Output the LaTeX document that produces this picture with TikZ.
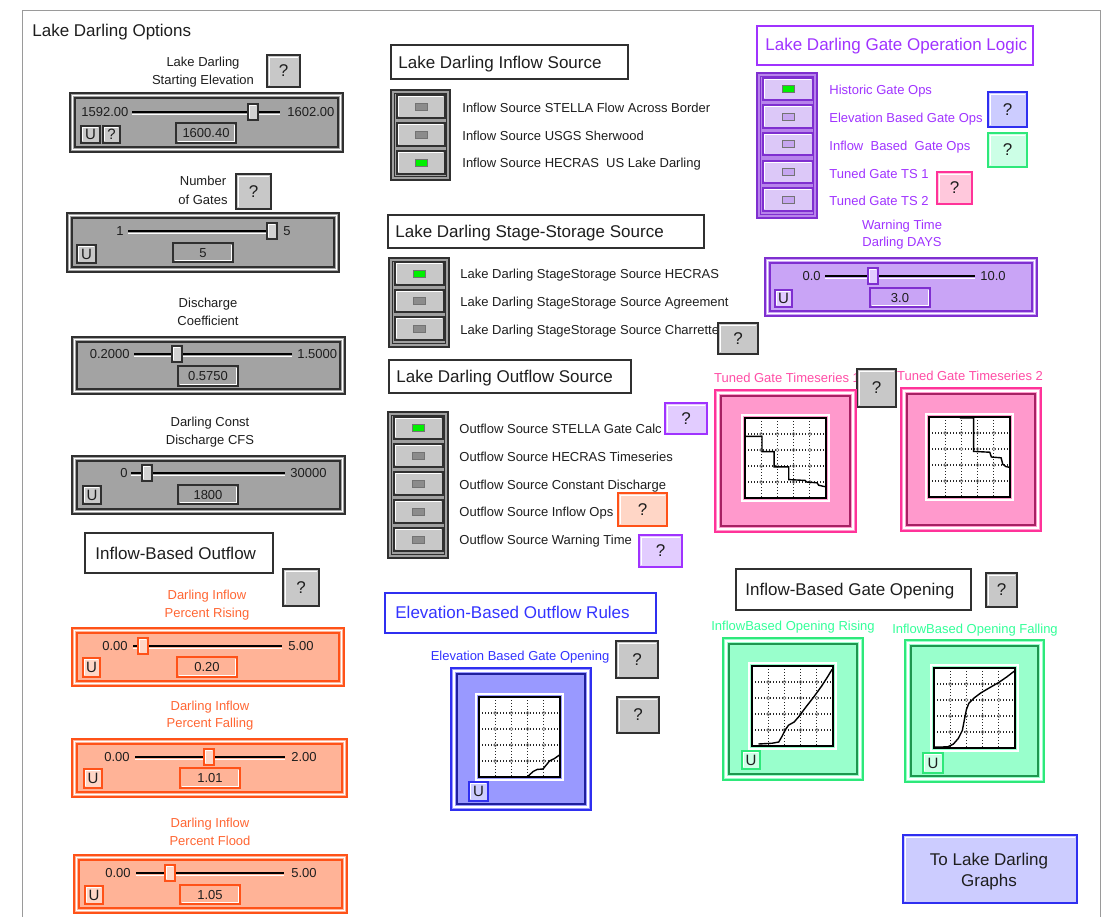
\documentclass[tikz,border=0pt]{standalone}
\usepackage{fontspec}
\setmainfont{Liberation Sans}

\definecolor{txtdark}{HTML}{1E1E1E}
\definecolor{sgray}{HTML}{A3A3A3}
\definecolor{sbord}{HTML}{303030}
\definecolor{btngray}{HTML}{C8C8C8}
\definecolor{thumbgray}{HTML}{D2D2D2}
\definecolor{grpgray}{HTML}{A0A0A0}
\definecolor{ledoff}{HTML}{8C8C8C}
\definecolor{ledon}{HTML}{00F000}
\definecolor{orgtxt}{HTML}{FF6633}
\definecolor{orgfill}{HTML}{FFB397}
\definecolor{orgbord}{HTML}{FF5218}
\definecolor{orglite}{HTML}{FFD6C6}
\definecolor{purtxt}{HTML}{A033FF}
\definecolor{purbord}{HTML}{7F2FD0}
\definecolor{purgrp}{HTML}{B783EB}
\definecolor{purbtn}{HTML}{DCC8F8}
\definecolor{purled}{HTML}{C6A6F0}
\definecolor{purslide}{HTML}{C9A4F6}
\definecolor{purlite}{HTML}{E2CCFF}
\definecolor{pnktxt}{HTML}{FF4DA6}
\definecolor{pnkfill}{HTML}{FF99CC}
\definecolor{pnkbord}{HTML}{FF3399}
\definecolor{pnklite}{HTML}{FFC8DC}
\definecolor{grntxt}{HTML}{33FF99}
\definecolor{grnfill}{HTML}{99FFCC}
\definecolor{grnbord}{HTML}{2EE87A}
\definecolor{grnlite}{HTML}{CCFFE6}
\definecolor{blutxt}{HTML}{3333FF}
\definecolor{blufill}{HTML}{9999FF}
\definecolor{blubord}{HTML}{2F2FF0}
\definecolor{blulite}{HTML}{CCCCFF}
\definecolor{framegray}{HTML}{9A9A9A}

% raised help button with a question mark
\newcommand{\ldhelp}[7]{%
  \filldraw[fill=#6, draw=#7, line width=0.9pt] (#2,#3) rectangle (#4,#5);
  \draw[white, line width=0.5pt] (#2+2,#5-2) -- (#2+2,#3+2) -- (#4-2,#3+2);
  \node[qmark] (#1) at ({(#2+#4)/2},{(#3+#5)/2}) {?};
}
% small square button (U or ?)
\newcommand{\ldsmall}[8]{%
  \filldraw[fill=#6, draw=#7, line width=0.8pt] (#2,#3) rectangle (#4,#5);
  \draw[white, line width=0.4pt] (#2+1.8,#5-1.8) -- (#2+1.8,#3+1.8) -- (#4-1.8,#3+1.8);
  \node[ubtn] (#1) at ({(#2+#4)/2},{(#3+#5)/2}) {#8};
}
% bevelled frame of a slider
\newcommand{\ldframe}[6]{%
  \filldraw[fill=#5, draw=#6, line width=1pt] (#1,#2) rectangle (#3,#4);
  \draw[white, line width=0.7pt] (#1+2.6,#2+2.6) rectangle (#3-2.6,#4-2.6);
  \draw[#6, line width=0.6pt] (#1+5,#2+5) rectangle (#3-5,#4-5);
}
% slider track with its thumb
\newcommand{\ldtrack}[6]{%
  \draw[black, line width=1.4pt] (#1,#3) -- (#2,#3);
  \draw[white, line width=0.5pt] (#1,#3+2.3) -- (#2,#3+2.3);
  \filldraw[fill=#5, draw=#6, line width=0.6pt] (#4-5,#3-8) rectangle (#4+5,#3+8);
  \draw[white, line width=0.4pt] (#4-3.4,#3+6.4) -- (#4-3.4,#3-6.4) -- (#4+3.4,#3-6.4);
}
% numeric value display
\newcommand{\ldvalue}[8]{%
  \filldraw[fill=#6, draw=#7, line width=0.9pt] (#2,#3) rectangle (#4,#5);
  \draw[white, line width=0.4pt] (#2+2,#5-2) -- (#4-2,#5-2) -- (#4-2,#3+2);
  \node[lbl] (#1) at ({(#2+#4)/2},{(#3+#5)/2}) {#8};
}
% box that holds a column of radio buttons
\newcommand{\ldgroup}[6]{%
  \filldraw[fill=#5, draw=#6, line width=1pt] (#1,#2) rectangle (#3,#4);
  \draw[#6, line width=0.6pt] (#1+3.5,#2+3.5) rectangle (#3-3.5,#4-3.5);
}
% one radio button with its indicator lamp
\newcommand{\ldradio}[7]{%
  \filldraw[fill=#5, draw=#6, line width=0.8pt] (#1,#2) rectangle (#3,#4);
  \draw[white, line width=0.5pt] (#1+1.6,#4-1.6) -- (#1+1.6,#2+1.6) -- (#3-1.6,#2+1.6);
  \filldraw[fill=#7, draw=black!55, line width=0.4pt]
    ({(#1+#3)/2-6},{(#2+#4)/2-3.5}) rectangle ({(#1+#3)/2+6},{(#2+#4)/2+3.5});
}
% bevelled panel around a graphical function
\newcommand{\ldpanel}[6]{%
  \filldraw[fill=#5, draw=#6, line width=1pt] (#1,#2) rectangle (#3,#4);
  \draw[white, line width=0.7pt] (#1+3,#2+3) rectangle (#3-3,#4-3);
  \draw[#6!65!black, line width=0.6pt] (#1+6,#2+6) rectangle (#3-6,#4-6);
}
% plot area with dotted grid and a curve (unit square, y downwards)
\newcommand{\ldplot}[3]{%
  \begin{scope}[shift={(#1,#2)}, x=40.5pt, y=-40pt]
    \draw[white, line width=1.2pt] (-0.035,-0.035) rectangle (1.035,1.035);
    \fill[white] (0,0) rectangle (1,1);
    \foreach \pg in {0.2,0.4,0.6,0.8}{
      \draw[black!85, dash pattern=on 0.6pt off 0.9pt, line width=0.6pt] (\pg,0) -- (\pg,1);
      \draw[black!85, dash pattern=on 0.6pt off 0.9pt, line width=0.6pt] (0,\pg) -- (1,\pg);
    }
    \foreach \pa in {0.2,0.4,0.6,0.8}{\foreach \pb in {0.2,0.4,0.6,0.8}{
      \draw[black!50, line width=0.3pt] (\pa,\pb) circle[radius=0.8pt];}}
    \draw[black, line width=0.7pt] (0,0) rectangle (1,1);
    \draw[black, line width=0.7pt] plot coordinates {#3};
  \end{scope}
}

\tikzset{
  lbl/.style={font=\fontsize{6.5}{8}\selectfont, inner sep=0pt, text=txtdark,
    text height=4.7pt, text depth=0pt},
  hdg/.style={font=\fontsize{8.5}{10}\selectfont, inner sep=0pt, text=txtdark,
    text height=6.1pt, text depth=0pt, anchor=west},
  qmark/.style={font=\fontsize{8.5}{10}\selectfont, inner sep=0pt, text=txtdark},
  ubtn/.style={font=\fontsize{7.5}{9}\selectfont, inner sep=0pt, text=txtdark},
  headbox/.style={draw=sbord, fill=white, line width=0.8pt},
}

\begin{document}
\begin{tikzpicture}[x=0.5pt, y=-0.5pt]
\useasboundingbox (0,0) rectangle (1107,917);
\fill[white] (0,0) rectangle (1107,917);
\draw[framegray, line width=0.5pt] (22,10) -- (22,917);
\draw[framegray, line width=0.5pt] (1100,10) -- (1100,917);
\draw[framegray, line width=0.5pt] (22,10) -- (1100,10);

\node[hdg] (title) at (32,30) {Lake Darling Options};

% ---------- left column: sliders ----------
\node[lbl] (elevA) at (203,61.7) {Lake Darling};
\node[lbl] (elevB) at (203,79.3) {Starting Elevation};
\ldhelp{elevhelp}{267}{55}{300}{87}{btngray}{sbord}
\ldframe{70}{93}{343}{152}{sgray}{sbord}
\node[lbl, anchor=west] (elevmin) at (81,112) {1592.00};
\ldtrack{132}{280}{112}{253}{thumbgray}{sbord}
\node[lbl, anchor=west] (elevmax) at (287,112) {1602.00};
\ldsmall{elevU}{81}{126}{100}{143}{btngray}{sbord}{U}
\ldsmall{elevQ}{103}{126}{120}{143}{btngray}{sbord}{?}
\ldvalue{elevval}{176}{123}{236}{143}{sgray}{sbord}{1600.40}

\node[lbl] (gatesA) at (203,180.7) {Number};
\node[lbl] (gatesB) at (203,199.3) {of Gates};
\ldhelp{gateshelp}{236}{174}{271}{209}{btngray}{sbord}
\ldframe{67}{213}{339}{272}{sgray}{sbord}
\node[lbl, anchor=east] (gatesmin) at (124,231) {1};
\ldtrack{128}{272}{231}{272}{thumbgray}{sbord}
\node[lbl, anchor=west] (gatesmax) at (283,231) {5};
\ldsmall{gatesU}{77}{245}{96}{263}{btngray}{sbord}{U}
\ldvalue{gatesval}{173}{243}{233}{262}{sgray}{sbord}{5}

\node[lbl] (coefA) at (208,303) {Discharge};
\node[lbl] (coefB) at (208,321) {Coefficient};
\ldframe{72}{337}{345}{394}{sgray}{sbord}
\node[lbl, anchor=east] (coefmin) at (130,354) {0.2000};
\ldtrack{134}{292}{354}{177}{thumbgray}{sbord}
\node[lbl, anchor=west] (coefmax) at (297,354) {1.5000};
\ldvalue{coefval}{178}{366}{238}{386}{sgray}{sbord}{0.5750}

\node[lbl] (constA) at (210,422) {Darling Const};
\node[lbl] (constB) at (210,440) {Discharge CFS};
\ldframe{72}{456}{345}{514}{sgray}{sbord}
\node[lbl, anchor=east] (constmin) at (128,473) {0};
\ldtrack{131}{285}{473}{147}{thumbgray}{sbord}
\node[lbl, anchor=west] (constmax) at (290,473) {30000};
\ldsmall{constU}{83}{486}{101}{504}{btngray}{sbord}{U}
\ldvalue{constval}{178}{485}{238}{504}{sgray}{sbord}{1800}

% ---------- inflow based outflow ----------
\draw[headbox] (85,533) rectangle (273,573);
\node[hdg] (ibohead) at (95,553) {Inflow-Based Outflow};
\ldhelp{ibohelp}{283}{569}{319}{606}{btngray}{sbord}

\node[lbl, text=orgtxt] (riseA) at (207,594.3) {Darling Inflow};
\node[lbl, text=orgtxt] (riseB) at (207,612.3) {Percent Rising};
\ldframe{72}{628}{344}{686}{orgfill}{orgbord}
\node[lbl, anchor=east] (risemin) at (128,646) {0.00};
\ldtrack{133}{282}{646}{143}{orglite}{orgbord}
\node[lbl, anchor=west] (risemax) at (288,646) {5.00};
\ldsmall{riseU}{83}{658}{100}{677}{orglite}{orgbord}{U}
\ldvalue{riseval}{177}{657}{237}{677}{orgfill}{orgbord}{0.20}

\node[lbl, text=orgtxt] (fallA) at (210,706) {Darling Inflow};
\node[lbl, text=orgtxt] (fallB) at (210,723) {Percent Falling};
\ldframe{72}{739}{347}{797}{orgfill}{orgbord}
\node[lbl, anchor=east] (fallmin) at (130,757) {0.00};
\ldtrack{135}{285}{757}{209}{orglite}{orgbord}
\node[lbl, anchor=west] (fallmax) at (291,757) {2.00};
\ldsmall{fallU}{84}{769}{102}{788}{orglite}{orgbord}{U}
\ldvalue{fallval}{180}{768}{240}{788}{orgfill}{orgbord}{1.01}

\node[lbl, text=orgtxt] (floodA) at (210,822.7) {Darling Inflow};
\node[lbl, text=orgtxt] (floodB) at (210,840.7) {Percent Flood};
\ldframe{74}{855}{347}{913}{orgfill}{orgbord}
\node[lbl, anchor=east] (floodmin) at (131,873) {0.00};
\ldtrack{136}{284}{873}{170}{orglite}{orgbord}
\node[lbl, anchor=west] (floodmax) at (291,873) {5.00};
\ldsmall{floodU}{85}{886}{103}{904}{orglite}{orgbord}{U}
\ldvalue{floodval}{180}{885}{240}{904}{orgfill}{orgbord}{1.05}

% ---------- middle column: source switches ----------
\draw[headbox] (391,45) rectangle (628,79);
\node[hdg] (inhead) at (398,62.3) {Lake Darling Inflow Source};
\ldgroup{391}{90}{450}{180}{grpgray}{sbord}
\ldradio{397}{95}{445}{118}{btngray}{sbord}{ledoff}
\ldradio{397}{123}{445}{146}{btngray}{sbord}{ledoff}
\ldradio{397}{151}{445}{174}{btngray}{sbord}{ledon}
\node[lbl, anchor=west] (in1) at (462,108) {Inflow Source STELLA Flow Across Border};
\node[lbl, anchor=west] (in2) at (462,135.5) {Inflow Source USGS Sherwood};
\node[lbl, anchor=west] (in3) at (462,163) {Inflow Source HECRAS\ \ US Lake Darling};

\draw[headbox] (388,215) rectangle (704,248);
\node[hdg] (sshead) at (395,231.5) {Lake Darling Stage-Storage Source};
\ldgroup{389}{258}{449}{347}{grpgray}{sbord}
\ldradio{395}{262}{444}{285}{btngray}{sbord}{ledon}
\ldradio{395}{290}{444}{312}{btngray}{sbord}{ledoff}
\ldradio{395}{317}{444}{340}{btngray}{sbord}{ledoff}
\node[lbl, anchor=west] (ss1) at (460,274) {Lake Darling StageStorage Source HECRAS};
\node[lbl, anchor=west] (ss2) at (460,302) {Lake Darling StageStorage Source Agreement};
\node[lbl, anchor=west] (ss3) at (460,329.5) {Lake Darling StageStorage Source Charrette};
\ldhelp{sshelp}{718}{323}{758}{354}{btngray}{sbord}

\draw[headbox] (389,360) rectangle (631,393);
\node[hdg] (outhead) at (396,376) {Lake Darling Outflow Source};
\ldgroup{388}{412}{448}{558}{grpgray}{sbord}
\ldradio{394}{417}{443}{439}{btngray}{sbord}{ledon}
\ldradio{394}{444}{443}{467}{btngray}{sbord}{ledoff}
\ldradio{394}{472}{443}{495}{btngray}{sbord}{ledoff}
\ldradio{394}{500}{443}{523}{btngray}{sbord}{ledoff}
\ldradio{394}{528}{443}{551}{btngray}{sbord}{ledoff}
\node[lbl, anchor=west] (out1) at (459,429) {Outflow Source STELLA Gate Calc};
\node[lbl, anchor=west] (out2) at (459,457) {Outflow Source HECRAS Timeseries};
\node[lbl, anchor=west] (out3) at (459,484.5) {Outflow Source Constant Discharge};
\node[lbl, anchor=west] (out4) at (459,512) {Outflow Source Inflow Ops};
\node[lbl, anchor=west] (out5) at (459,539.5) {Outflow Source Warning Time};
\ldhelp{out1help}{665}{403}{707}{434}{purlite}{purtxt}
\ldhelp{out4help}{618}{493}{667}{526}{orglite}{orgbord}
\ldhelp{out5help}{639}{535}{682}{567}{purlite}{purtxt}

% ---------- elevation based rules ----------
\draw[draw=blubord, fill=white, line width=0.8pt] (385,593) rectangle (656,633);
\node[hdg, text=blutxt] (elhead) at (395,612.7) {Elevation-Based Outflow Rules};
\node[lbl, text=blutxt] (ellabel) at (520,656) {Elevation Based Gate Opening};
\ldhelp{elhelpA}{616}{641}{658}{678}{btngray}{sbord}
\ldhelp{elhelpB}{617}{697}{659}{733}{btngray}{sbord}
\ldpanel{451}{668}{591}{810}{blufill}{blubord}
\ldplot{479}{697}{(0,1) (0.59,1) (0.61,0.985) (0.67,0.93) (0.72,0.905) (0.79,0.90) (0.87,0.80) (0.93,0.77) (1,0.72)}
\ldsmall{elU}{469}{782}{488}{801}{blulite}{blubord}{U}

% ---------- right column: gate operation logic ----------
\draw[draw=purtxt, fill=white, line width=0.8pt] (757,26) rectangle (1033,65);
\node[hdg, text=purtxt] (gohead) at (765,44) {Lake Darling Gate Operation Logic};
\ldgroup{757}{73}{817}{218}{purgrp}{purbord}
\ldradio{763}{78}{813}{100}{purbtn}{purbord}{ledon}
\ldradio{763}{105}{813}{128}{purbtn}{purbord}{purled}
\ldradio{763}{133}{813}{155}{purbtn}{purbord}{purled}
\ldradio{763}{161}{813}{183}{purbtn}{purbord}{purled}
\ldradio{763}{188}{813}{211}{purbtn}{purbord}{purled}
\node[lbl, anchor=west, text=purtxt] (go1) at (829,90) {Historic Gate Ops};
\node[lbl, anchor=west, text=purtxt] (go2) at (829,118) {Elevation Based Gate Ops};
\node[lbl, anchor=west, text=purtxt] (go3) at (829,145.5) {Inflow\ \ Based\ \ Gate Ops};
\node[lbl, anchor=west, text=purtxt] (go4) at (829,173.5) {Tuned Gate TS 1};
\node[lbl, anchor=west, text=purtxt] (go5) at (829,201) {Tuned Gate TS 2};
\ldhelp{gohelpA}{988}{92}{1027}{127}{blulite}{blubord}
\ldhelp{gohelpB}{988}{133}{1027}{167}{grnlite}{grnbord}
\ldhelp{gohelpC}{937}{172}{972}{204}{pnklite}{pnkbord}

\node[lbl, text=purtxt] (warnA) at (902,225) {Warning Time};
\node[lbl, text=purtxt] (warnB) at (902,242) {Darling DAYS};
\ldframe{765}{258}{1037}{316}{purslide}{purbord}
\node[lbl, anchor=east] (warnmin) at (821,276) {0.0};
\ldtrack{825}{975}{276}{873}{purlite}{purbord}
\node[lbl, anchor=west] (warnmax) at (980,276) {10.0};
\ldsmall{warnU}{775}{290}{792}{307}{purlite}{purbord}{U}
\ldvalue{warnval}{870}{288}{930}{307}{purslide}{purbord}{3.0}

% ---------- tuned gate time series ----------
\node[lbl, text=pnktxt] (tsAlabel) at (787,377.3) {Tuned Gate Timeseries 1};
\ldhelp{tshelp}{857}{369}{896}{407}{btngray}{sbord}
\ldpanel{715}{390}{856}{532}{pnkfill}{pnkbord}
\ldplot{745}{418}{(0,0.23) (0.21,0.23) (0.21,0.42) (0.36,0.42) (0.36,0.61) (0.54,0.61) (0.54,0.77) (0.74,0.78) (0.76,0.80) (0.89,0.81) (0.91,0.84) (0.95,0.85) (1,0.86)}
\node[lbl, text=pnktxt] (tsBlabel) at (970,375.7) {Tuned Gate Timeseries 2};
\ldpanel{901}{388}{1041}{531}{pnkfill}{pnkbord}
\ldplot{929}{417}{(0.38,0.01) (0.55,0.01) (0.55,0.43) (0.75,0.44) (0.77,0.50) (0.89,0.51) (0.91,0.59) (0.95,0.62) (1,0.63)}

% ---------- inflow based gate opening ----------
\draw[headbox] (736,569) rectangle (971,610);
\node[hdg] (ighead) at (745,589.3) {Inflow-Based Gate Opening};
\ldhelp{ighelp}{986}{573}{1017}{607}{btngray}{sbord}
\node[lbl, text=grntxt] (igRlabel) at (793,625.7) {InflowBased Opening Rising};
\ldpanel{723}{638}{863}{780}{grnfill}{grnbord}
\ldplot{752}{666}{(0.08,0.975) (0.25,0.965) (0.33,0.95) (0.37,0.88) (0.41,0.80) (0.45,0.74) (0.52,0.70) (0.58,0.63) (0.66,0.52) (0.76,0.39) (0.86,0.25) (0.93,0.14) (0.99,0.04)}
\ldsmall{igRU}{742}{751}{760}{769}{grnlite}{grnbord}{U}
\node[lbl, text=grntxt] (igFlabel) at (975,628.3) {InflowBased Opening Falling};
\ldpanel{905}{640}{1044}{782}{grnfill}{grnbord}
\ldplot{934}{668}{(0,0.99) (0.17,0.985) (0.24,0.95) (0.30,0.88) (0.35,0.78) (0.38,0.62) (0.40,0.52) (0.43,0.44) (0.50,0.37) (0.58,0.31) (0.68,0.25) (0.80,0.18) (0.90,0.11) (0.99,0.04)}
\ldsmall{igFU}{923}{753}{943}{773}{grnlite}{grnbord}{U}

% ---------- navigation button ----------
\filldraw[fill=blulite, draw=blubord, line width=1pt] (903,835) rectangle (1077,903);
\draw[white, line width=0.5pt] (905,901) -- (905,837) -- (1075,837);
\node[hdg, anchor=center] (navA) at (989,859.3) {To Lake Darling};
\node[hdg, anchor=center] (navB) at (989,880.7) {Graphs};
\end{tikzpicture}
\end{document}
